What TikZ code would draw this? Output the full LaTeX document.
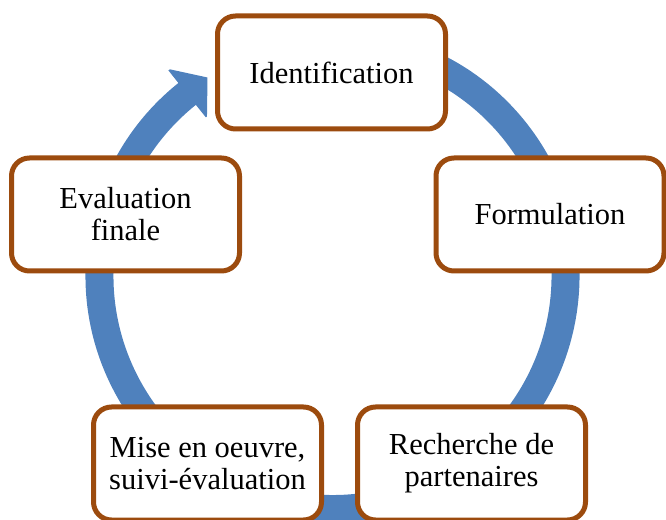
\documentclass[tikz,border=0pt]{standalone}
\usepackage{fontspec}
\setmainfont{Liberation Serif}
\definecolor{ringblue}{RGB}{79,129,189}
\definecolor{boxbrown}{RGB}{156,75,14}
\begin{document}
\begin{tikzpicture}[x=1pt,y=1pt,
  stagebox/.style={draw=boxbrown, line width=5pt, fill=white, rounded corners=18pt,
    minimum width=228pt, minimum height=113pt, align=center,
    font=\fontsize{30.5}{32}\selectfont, inner sep=0pt}]
\useasboundingbox (0,0) rectangle (666,519);
% circular arrow
\coordinate (c) at (332.5,243);
\draw[ringblue, line width=28pt] ([shift={(80:233)}]c) arc[start angle=80, end angle=-231.8, radius=233];
\fill[ringblue] ([shift={(128.2:263)}]c) -- ([shift={(122.2:234.6)}]c) -- ([shift={(128.2:203)}]c) -- ([shift={(128.6:203)}]c) -- ([shift={(128.6:263)}]c) -- cycle;
% boxes
\node[stagebox] (ident) at (331.5,446.5) {Identification};
\node[stagebox] (form) at (550,304.5) {Formulation};
\node[stagebox] (rech) at (471.5,55.5) {Recherche de\\partenaires};
\node[stagebox] (mise) at (207.5,55.5) {Mise en oeuvre,\\suivi-évaluation};
\node[stagebox] (eval) at (125.5,304.5) {Evaluation\\finale};
\end{tikzpicture}
\end{document}
